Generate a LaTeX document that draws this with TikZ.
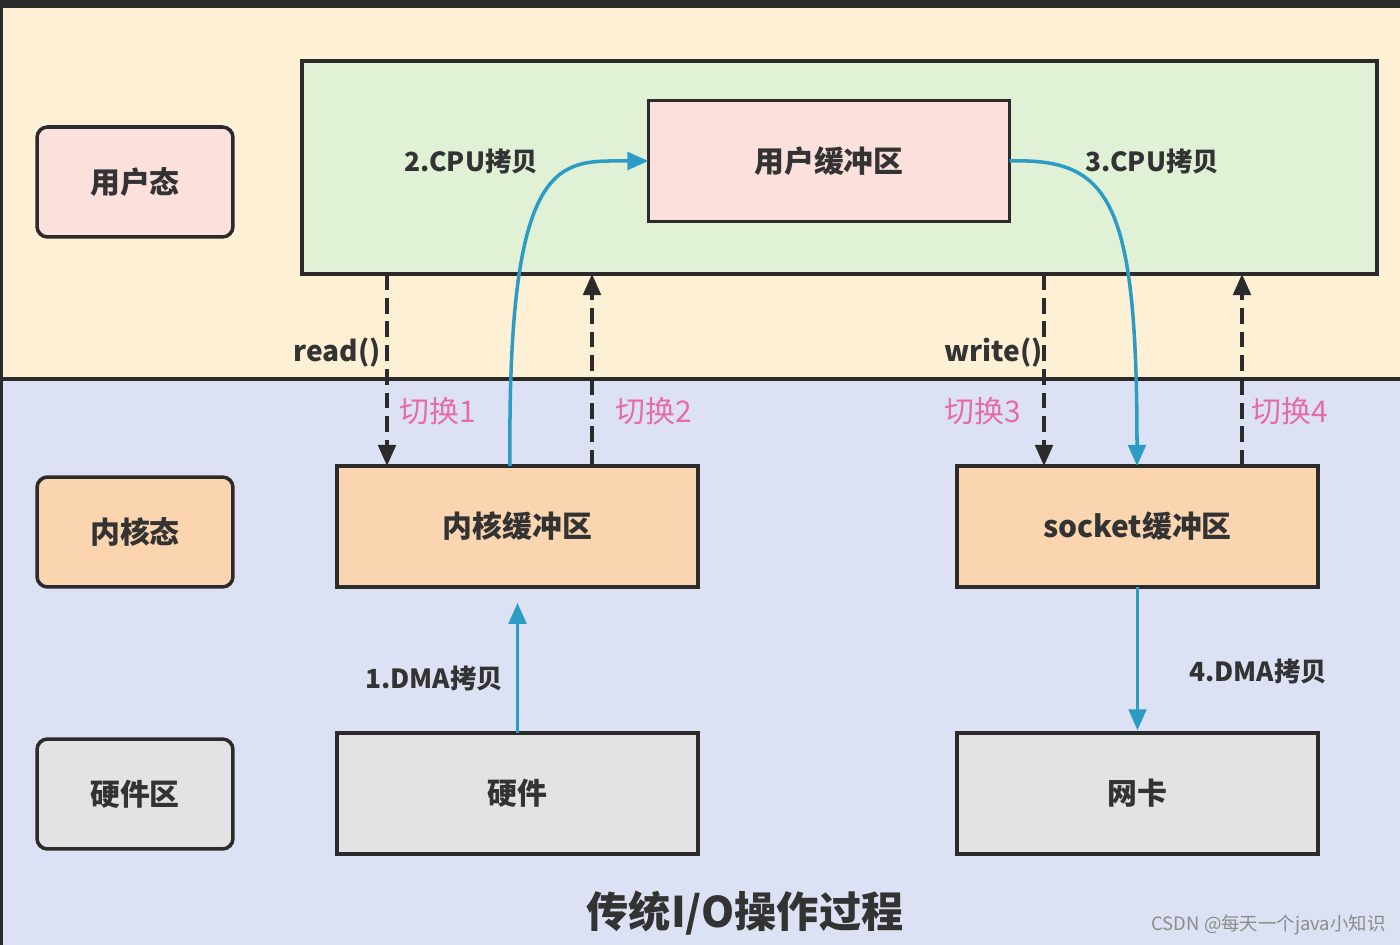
\documentclass[tikz,border=0pt]{standalone}
\usepackage{fontspec}
\setmainfont{Noto Sans CJK SC}
\usetikzlibrary{arrows.meta}
\definecolor{cream}{HTML}{FDF0D5}
\definecolor{lav}{HTML}{DCE2F3}
\definecolor{grn}{HTML}{E0F1D6}
\definecolor{pinkf}{HTML}{FCE0DC}
\definecolor{peach}{HTML}{FBD5AF}
\definecolor{grayf}{HTML}{E3E3E3}
\definecolor{dk}{HTML}{2B2B2B}
\definecolor{blu}{HTML}{2D9CC4}
\definecolor{pk}{HTML}{E56DA7}
\definecolor{txt}{HTML}{333333}
\definecolor{wm}{HTML}{8C8C8C}
\begin{document}
\begin{tikzpicture}[x=0.02cm,y=-0.02cm,
  box/.style={draw=dk, line width=2pt, inner sep=0pt, outer sep=0pt,
    font=\fontsize{17}{20}\selectfont\bfseries, text=txt},
  lbl/.style={box, rounded corners=6pt, minimum width=3.92cm, minimum height=2.2cm},
  bigbox/.style={box, minimum width=7.22cm, minimum height=2.42cm},
  darr/.style={draw=dk, line width=2pt, dash pattern=on 9pt off 4.5pt,
    -{Triangle[length=12pt,width=10pt]}},
  barr/.style={draw=blu, line width=2pt, -{Triangle[length=12pt,width=10pt]}},
  call/.style={font=\fontsize{16}{19}\selectfont\bfseries, text=txt, inner sep=0pt},
  sw/.style={font=\fontsize{17}{20}\selectfont, text=pk, inner sep=0pt},
  cp/.style={font=\fontsize{15}{18}\selectfont\bfseries, text=txt, inner sep=0pt}
]
\useasboundingbox (0,0) rectangle (1400,945);
\fill[cream] (0,8) rectangle (1400,379);
\fill[lav] (0,379) rectangle (1400,945);
\fill[dk] (0,0) rectangle (1400,8);
\draw[dk, line width=1.8pt] (0,379) -- (1400,379);
\draw[dk, line width=2pt] (1,8) -- (1,945);

% left labels
\node[lbl, fill=pinkf] (ul) at (135,182) {用户态};
\node[lbl, fill=peach] (kl) at (135,532) {内核态};
\node[lbl, fill=grayf] (hl) at (135,794) {硬件区};

% green user area
\node[box, fill=grn, minimum width=21.5cm, minimum height=4.26cm] (green) at (839.5,167.5) {};
\node[bigbox, fill=pinkf] (ubuf) at (829,161) {用户缓冲区};
\node[bigbox, fill=peach] (kbuf) at (517.5,526.5) {内核缓冲区};
\node[bigbox, fill=peach] (sock) at (1137.5,526.5) {socket缓冲区};
\node[bigbox, fill=grayf] (hw) at (517.5,793.5) {硬件};
\node[bigbox, fill=grayf] (nic) at (1137.5,793.5) {网卡};

% switch arrows
\coordinate (r1) at (387,0);
\coordinate (r2) at (592,0);
\coordinate (r3) at (1044,0);
\coordinate (r4) at (1242,0);
\draw[darr] (green.south -| r1) -- (kbuf.north -| r1);
\draw[darr] (kbuf.north -| r2) -- (green.south -| r2);
\draw[darr] (green.south -| r3) -- (sock.north -| r3);
\draw[darr] (sock.north -| r4) -- (green.south -| r4);

\node[call, anchor=east] (rd) at (381,353) {read()};
\node[call, anchor=east] (wr) at (1043,353) {write()};
\node[sw, anchor=west] (s1) at (399,411) {切换1};
\node[sw, anchor=west] (s2) at (615,411) {切换2};
\node[sw, anchor=east] (s3) at (1021,411) {切换3};
\node[sw, anchor=west] (s4) at (1251,411) {切换4};

% copies
\coordinate (c1) at (510,0);
\draw[barr] (kbuf.north -| c1) .. controls (507,150) and (560,161) .. (ubuf.west);
\coordinate (c2) at (1137,0);
\draw[barr] (ubuf.east) .. controls (1110,158) and (1137,200) .. (sock.north -| c2);
\draw[barr, shorten >=9pt] (hw.north) -- (kbuf.south);
\draw[barr, shorten >=1.5pt] (sock.south) -- (nic.north);

\node[cp] (cp2) at (471,162) {2.CPU拷贝};
\node[cp] (cp3) at (1152,162) {3.CPU拷贝};
\node[cp] (dm1) at (434,679) {1.DMA拷贝};
\node[cp] (dm4) at (1258,672) {4.DMA拷贝};

\node[font=\fontsize{24}{29}\selectfont\bfseries, text=txt, inner sep=0pt] (title) at (745,913) {传统I/O操作过程};
\node[font=\fontsize{10.5}{12}\selectfont, text=wm, inner sep=0pt, anchor=east] (mark) at (1386,925) {CSDN @每天一个java小知识};
\end{tikzpicture}
\end{document}
